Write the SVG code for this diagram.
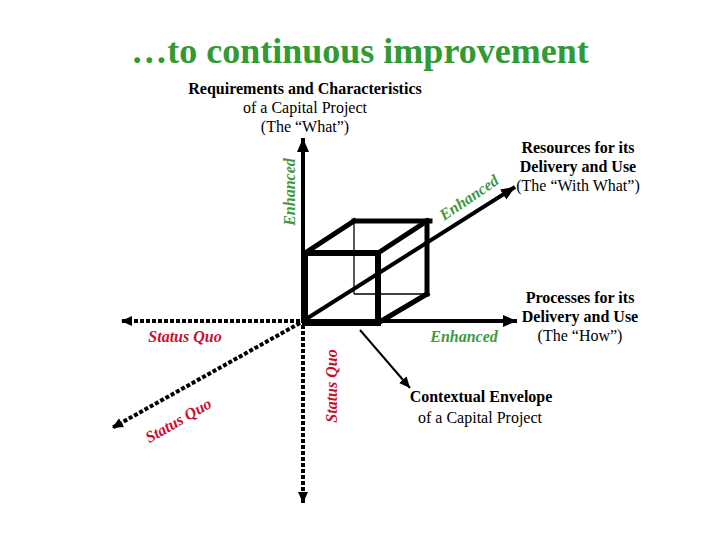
<svg xmlns="http://www.w3.org/2000/svg" width="720" height="540" viewBox="0 0 720 540">
<style>
.t{font-family:"Liberation Serif","DejaVu Serif",serif;fill:#000;text-anchor:middle}
.b{font-weight:bold;font-size:16px}
.r{font-size:16px}
.g{font-family:"Liberation Serif","DejaVu Serif",serif;font-weight:bold;font-style:italic;font-size:16px;fill:#3f9a3f;text-anchor:middle}
.q{font-family:"Liberation Serif","DejaVu Serif",serif;font-weight:bold;font-style:italic;font-size:16px;fill:#c8102e;text-anchor:middle}
.ti{font-family:"Liberation Serif","DejaVu Serif",serif;font-weight:bold;font-size:36px;fill:#339933;text-anchor:middle}
.ax{stroke:#000;fill:none}
.dot{stroke:#000;fill:none;stroke-width:4;stroke-dasharray:4 2}
.thick{stroke:#000;stroke-width:6;fill:none;stroke-linecap:square}
.mid{stroke:#000;stroke-width:5;fill:none;stroke-linecap:square}
.thin{stroke:#000;stroke-width:1.3;fill:none}
</style>
<defs>
<marker id="ah" markerUnits="userSpaceOnUse" markerWidth="16" markerHeight="14" refX="14" refY="6" orient="auto">
<path d="M0,0 L14,6 L0,12 Z" fill="#000"/>
</marker>
<marker id="ahs" markerUnits="userSpaceOnUse" markerWidth="14" markerHeight="12" refX="11" refY="5" orient="auto">
<path d="M0,0 L11,5 L0,10 Z" fill="#000"/>
</marker>
</defs>
<rect width="720" height="540" fill="#fff"/>
<text class="ti" x="360" y="63">…to continuous improvement</text>

<g id="connectors">
<line class="ax" x1="303" y1="323" x2="303" y2="138" stroke-width="4" marker-end="url(#ah)"/>
<line class="ax" x1="303" y1="321" x2="517" y2="321" stroke-width="4" marker-end="url(#ah)"/>
<line class="ax" x1="303" y1="321" x2="515" y2="187" stroke-width="4" marker-end="url(#ah)"/>
<line class="dot" x1="300" y1="321" x2="121" y2="321" marker-end="url(#ahs)"/>
<line class="dot" x1="303" y1="325" x2="303" y2="503" marker-end="url(#ahs)"/>
<line class="dot" x1="300" y1="323" x2="112" y2="428" marker-end="url(#ahs)"/>
<line class="ax" x1="360" y1="330" x2="410" y2="388" stroke-width="2" marker-end="url(#ahs)"/>
</g>

<g id="cube">
<line class="thin" x1="354" y1="221" x2="354" y2="294"/>
<line class="thin" x1="354" y1="294" x2="427" y2="294"/>
<line class="mid" x1="354" y1="221" x2="430" y2="221"/>
<line class="mid" x1="427" y1="221" x2="427" y2="294"/>
<line class="mid" x1="305" y1="253" x2="354" y2="221"/>
<line class="mid" x1="378" y1="253" x2="427" y2="221"/>
<line class="mid" x1="378" y1="323" x2="427" y2="294"/>
<rect class="thick" x="305" y="253" width="73" height="70"/>
</g>

<g id="label-what">
<text class="t b" x="305" y="94">Requirements and Characteristics</text>
<text class="t r" x="305" y="113">of a Capital Project</text>
<text class="t r" x="305" y="132">(The “What”)</text>
</g>
<g id="label-withwhat">
<text class="t b" x="578" y="153">Resources for its</text>
<text class="t b" x="578" y="172">Delivery and Use</text>
<text class="t r" x="578" y="191">(The “With What”)</text>
</g>
<g id="label-how">
<text class="t b" x="580" y="303">Processes for its</text>
<text class="t b" x="580" y="322">Delivery and Use</text>
<text class="t r" x="580" y="341">(The “How”)</text>
</g>
<g id="label-context">
<text class="t b" x="481" y="402">Contextual Envelope</text>
<text class="t r" x="480" y="423">of a Capital Project</text>
</g>

<g id="axis-labels">
<text class="g" x="295" y="192" transform="rotate(-90 295 192)">Enhanced</text>
<text class="g" x="472" y="202" transform="rotate(-34 472 202)">Enhanced</text>
<text class="g" x="464" y="342">Enhanced</text>
<text class="q" x="185" y="342">Status Quo</text>
<text class="q" x="337" y="386" transform="rotate(-90 337 386)">Status Quo</text>
<text class="q" x="181" y="425" transform="rotate(-30 181 425)">Status Quo</text>
</g>
</svg>
